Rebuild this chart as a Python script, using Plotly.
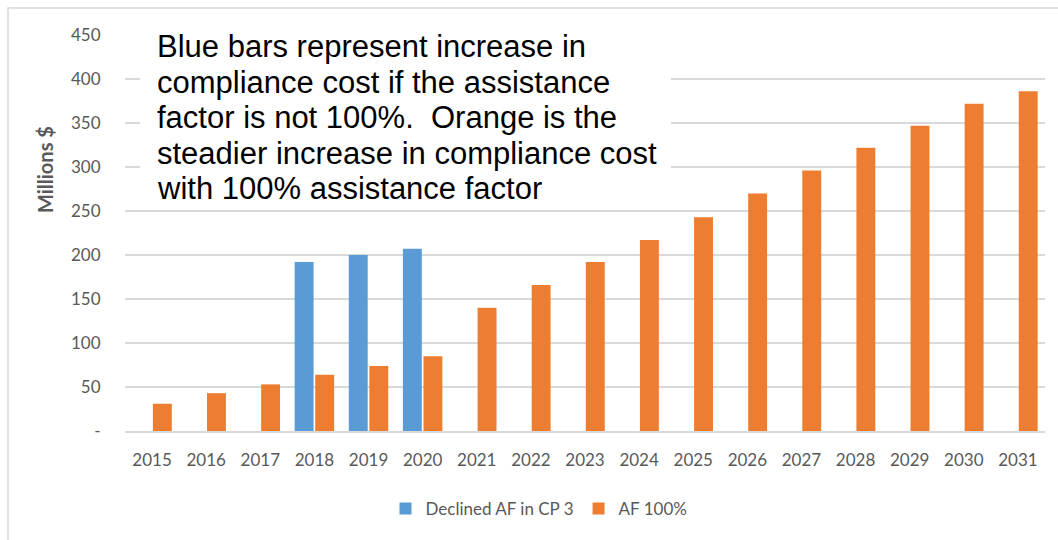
import plotly.graph_objects as go

years = [str(y) for y in range(2015, 2032)]
declined_af = [None, None, None, 192, 200, 207, None, None, None, None, None, None, None, None, None, None, None]
af_100 = [31, 43, 53, 64, 74, 85, 140, 166, 192, 217, 243, 270, 296, 322, 347, 372, 386]
y_tickvals = [0, 50, 100, 150, 200, 250, 300, 350, 400, 450]
y_ticktext = ["-", "50", "100", "150", "200", "250", "300", "350", "400", "450"]
note_lines = [
    "Blue bars represent increase in",
    "compliance cost if the assistance",
    "factor is not 100%.  Orange is the",
    "steadier increase in compliance cost",
    "with 100% assistance factor",
]

W, H = 1058, 540
L, R, T, B = 125, 13, 35, 109
pw, ph = W - L - R, H - T - B

def px(x):
    return (x - L) / pw

def py(y):
    return (H - B - y) / ph

fig = go.Figure()
fig.add_bar(x=years, y=declined_af, name="Declined AF in CP 3", marker=dict(color="#5B9BD5", line=dict(width=0)))
fig.add_bar(x=years, y=af_100, name="AF 100%", marker=dict(color="#ED7D31", line=dict(width=0)))

tick_font = dict(family="Lato", size=17, color="#595959")

fig.update_layout(
    width=W, height=H,
    margin=dict(l=L, r=R, t=T, b=B),
    paper_bgcolor="white", plot_bgcolor="white",
    barmode="group", bargap=0.24, bargroupgap=0.08,
    showlegend=True,
    legend=dict(orientation="h", x=px(539), y=py(509), xanchor="center", yanchor="middle",
                font=dict(family="Lato", size=17, color="#595959"), itemwidth=30),
    xaxis=dict(showgrid=False, showline=True, linecolor="#d9d9d9", linewidth=1.5,
               ticks="outside", ticklen=13, tickcolor="rgba(0,0,0,0)", tickfont=tick_font,
               zeroline=False),
    yaxis=dict(range=[0, 450], tickvals=y_tickvals, ticktext=y_ticktext,
               showgrid=True, gridcolor="#d9d9d9", gridwidth=1.5, zeroline=False,
               showline=False, ticks="outside", ticklen=20, tickcolor="rgba(0,0,0,0)",
               tickfont=tick_font),
)

# outer chart border
fig.add_shape(type="rect", xref="paper", yref="paper",
              x0=px(8), x1=px(1070), y0=py(550), y1=py(8),
              line=dict(color="#d9d9d9", width=1.5), fillcolor="rgba(0,0,0,0)")
# white text box
fig.add_shape(type="rect", xref="paper", yref="paper",
              x0=px(140), x1=px(671), y0=py(206), y1=py(22),
              line=dict(width=0), fillcolor="white", layer="above")

fig.add_annotation(text="Millions $", xref="paper", yref="paper", x=px(45), y=py(170),
                   xanchor="center", yanchor="middle",
                   textangle=-90, showarrow=False,
                   font=dict(family="Lato", size=20, color="#595959", weight="bold"))

centers = [47, 82.5, 118, 153.5, 189]
for line, cy in zip(note_lines, centers):
    fig.add_annotation(text=line, xref="paper", yref="paper", x=px(155), y=py(cy),
                       xanchor="left", yanchor="middle", showarrow=False,
                       font=dict(family="Liberation Sans", size=31, color="black"))

fig.write_html("out.html")
